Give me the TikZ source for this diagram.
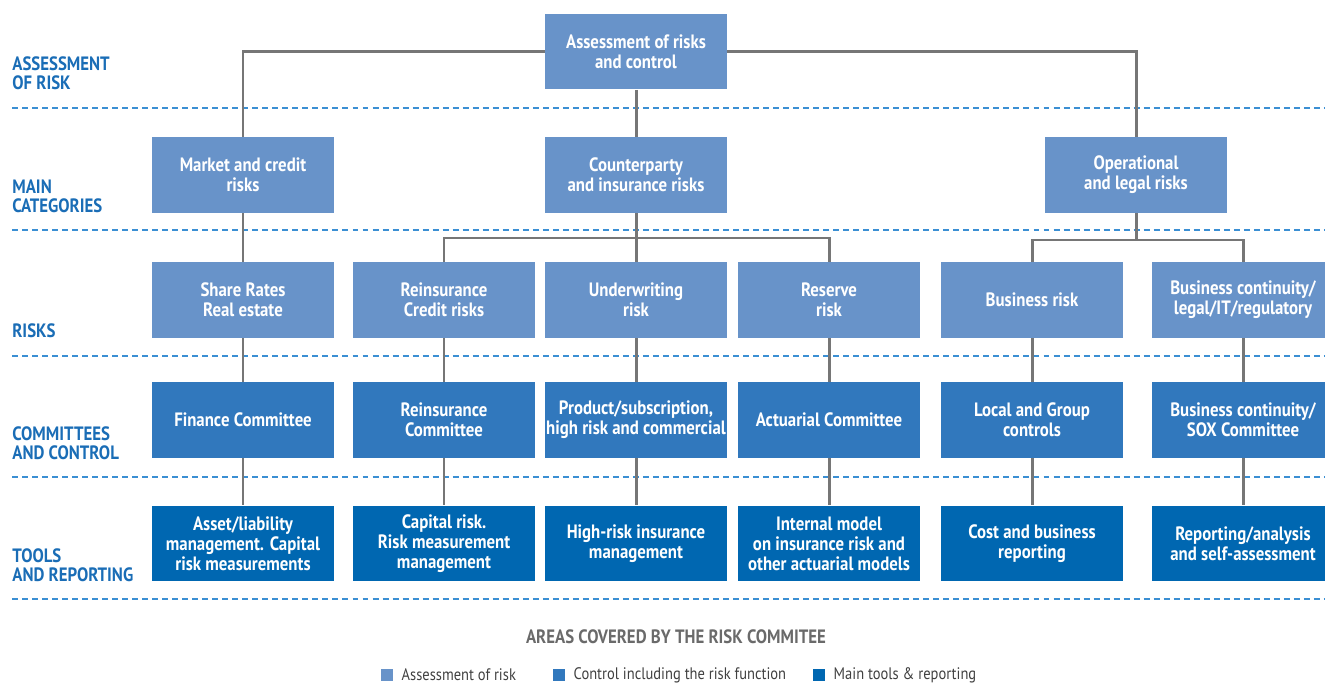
\documentclass[tikz,border=0pt]{standalone}
\usepackage{fontspec}
\setmainfont[FakeStretch=0.87]{PT Sans}
\usepackage{tikz}
\usetikzlibrary{positioning}

\definecolor{riskLight}{HTML}{6893C9}
\definecolor{riskMid}{HTML}{3178BD}
\definecolor{riskDark}{HTML}{0067B1}
\definecolor{rowBlue}{HTML}{1A6DB6}
\definecolor{dashBlue}{HTML}{3B8FD3}
\definecolor{linkGray}{HTML}{767676}

\tikzset{
  box/.style={minimum width=3.64cm, minimum height=1.52cm, inner sep=0pt,
    text=white, font=\fontsize{11}{11.4}\selectfont\bfseries, align=center},
  assess/.style={box, fill=riskLight},
  control/.style={box, fill=riskMid},
  tools/.style={box, fill=riskDark},
  conn/.style={draw=linkGray, line width=1.7pt},
  sep/.style={draw=dashBlue, line width=0.7pt, dash pattern=on 3.4pt off 2.3pt},
  rowlabel/.style={anchor=west, inner sep=0pt, align=left, text=rowBlue,
    font=\fontsize{11}{10.8}\selectfont\bfseries},
  legbox/.style={minimum size=0.24cm, inner sep=0pt},
  legtext/.style={right=0.16cm of #1, inner sep=0pt, text=black!75,
    font=\fontsize{9.5}{11}\selectfont}
}

\begin{document}
\begin{tikzpicture}[x=0.02cm, y=-0.02cm]
    \useasboundingbox (0,0) rectangle (1325,685);

    % dashed row separators
    \foreach \y in {108, 230, 356, 477, 599}
        \draw[sep] (12,\y) -- (1325,\y);

    % row titles
    \node[rowlabel] (labA) at (12,73) {ASSESSMENT\\OF RISK};
    \node[rowlabel] (labB) at (12,196) {MAIN\\CATEGORIES};
    \node[rowlabel] (labC) at (12,331) {RISKS};
    \node[rowlabel] (labD) at (12,443) {COMMITTEES\\AND CONTROL};
    \node[rowlabel] (labE) at (12,565) {TOOLS\\AND REPORTING};

    % assessment of risk
    \node[assess] (top) at (636,51.5) {Assessment of risks\\and control};

    % main categories
    \node[assess] (mkt) at (243,175) {Market and credit\\risks};
    \node[assess] (cpt) at (636,175) {Counterparty\\and insurance risks};
    \node[assess] (ops) at (1136,175) {Operational\\and legal risks};

    % risks
    \node[assess] (shr) at (243,300) {Share Rates\\Real estate};
    \node[assess] (rei) at (444,300) {Reinsurance\\Credit risks};
    \node[assess] (und) at (636,300) {Underwriting\\risk};
    \node[assess] (res) at (829,300) {Reserve\\risk};
    \node[assess] (bus) at (1032,300) {Business risk};
    \node[assess] (bcl) at (1243,300) {Business continuity/\\legal/IT/regulatory};

    % committees and control
    \node[control] (fin) at (243,420) {Finance Committee};
    \node[control] (rec) at (444,420) {Reinsurance\\Committee};
    \node[control] (prd) at (636,420) {Product/subscription,\\high risk and commercial};
    \node[control] (act) at (829,420) {Actuarial Committee};
    \node[control] (loc) at (1032,420) {Local and Group\\controls};
    \node[control] (sox) at (1243,420) {Business continuity/\\SOX Committee};

    % tools and reporting
    \node[tools] (alm) at (243,543.5) {Asset/liability\\management. Capital\\risk measurements};
    \node[tools] (cap) at (444,543.5) {Capital risk.\\Risk measurement\\management};
    \node[tools] (hri) at (636,543.5) {High-risk insurance\\management};
    \node[tools] (imo) at (829,543.5) {Internal model\\on insurance risk and\\other actuarial models};
    \node[tools] (cbr) at (1032,543.5) {Cost and business\\reporting};
    \node[tools] (rep) at (1243,543.5) {Reporting/analysis\\and self-assessment};

    % links from the top
    \draw[conn] (top.west) -| (mkt.north);
    \draw[conn] (top.east) -| (ops.north);
    \draw[conn] (top.south) -- (cpt.north);

    % forks below the categories
    \coordinate (cfork) at (636,238);
    \coordinate (ofork) at (1136,240);
    \draw[conn] (cpt.south) -- (cfork);
    \draw[conn] (rei.north) |- (cfork) -| (res.north);
    \draw[conn] (cfork) -- (und.north);
    \draw[conn] (ops.south) -- (ofork);
    \draw[conn] (bus.north) |- (ofork) -| (bcl.north);

    % columns
    \foreach \a/\b in {mkt/shr, shr/fin, fin/alm, rei/rec, rec/cap, und/prd, prd/hri,
                       res/act, act/imo, bus/loc, loc/cbr, bcl/sox, sox/rep}
        \draw[conn] (\a.south) -- (\b.north);

    % legend
    \node[text=linkGray!90!black, font=\fontsize{11}{12}\selectfont\bfseries] (legtitle) at (676,637)
        {AREAS COVERED BY THE RISK COMMITEE};
    \node[legbox, fill=riskLight] (legA) at (387,675) {};
    \node[legbox, fill=riskMid] (legB) at (559,675) {};
    \node[legbox, fill=riskDark] (legC) at (819,675) {};
    \node[legtext=legA] (legAt) {Assessment of risk};
    \node[legtext=legB] (legBt) {Control including the risk function};
    \node[legtext=legC] (legCt) {Main tools \& reporting};
\end{tikzpicture}
\end{document}
